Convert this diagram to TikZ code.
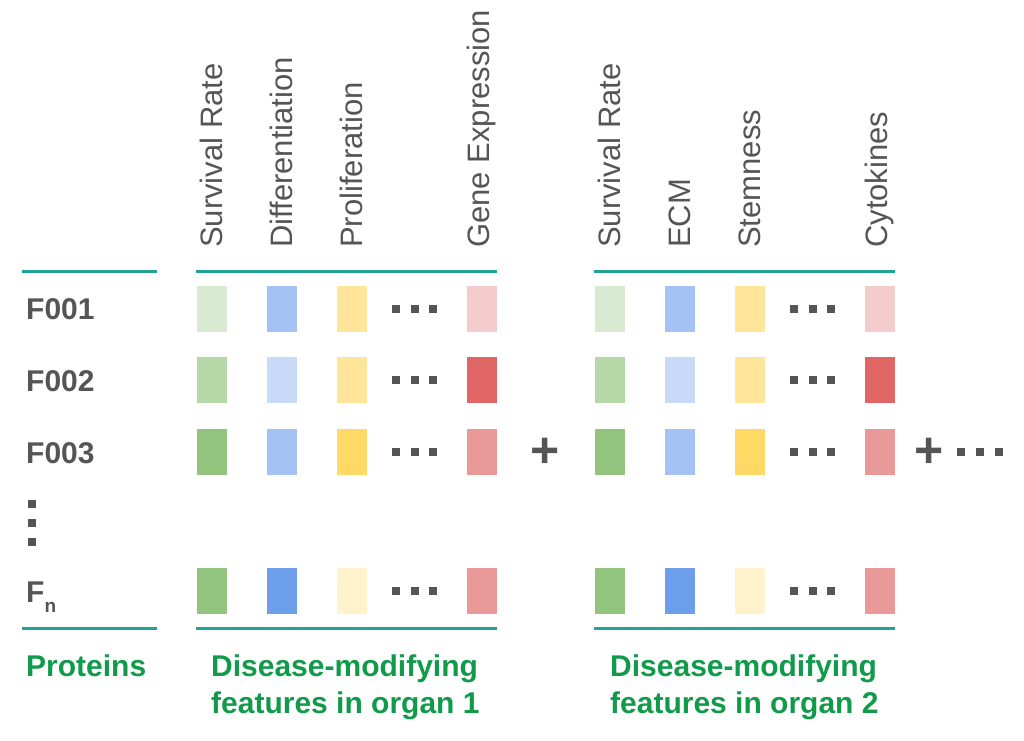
\documentclass[tikz,border=0pt]{standalone}
\usepackage{fontspec}
\setmainfont{Liberation Sans}
\usetikzlibrary{positioning}
\definecolor{rulecol}{RGB}{32,164,154}
\definecolor{inkgray}{RGB}{85,85,85}
\definecolor{labgreen}{RGB}{16,154,74}
\definecolor{gA}{HTML}{D9EAD3}
\definecolor{gB}{HTML}{B6D7A8}
\definecolor{gC}{HTML}{93C47D}
\definecolor{bA}{HTML}{A4C2F4}
\definecolor{bB}{HTML}{C9DAF8}
\definecolor{bC}{HTML}{6D9EEB}
\definecolor{yA}{HTML}{FFE599}
\definecolor{yB}{HTML}{FFD966}
\definecolor{yC}{HTML}{FFF2CC}
\definecolor{rA}{HTML}{F4CCCC}
\definecolor{rB}{HTML}{E06666}
\definecolor{rC}{HTML}{EA9999}
\tikzset{
    cell/.style = {
        rectangle, draw=white, line width=0.6pt,
        outer sep=0,
        inner sep=0,
        minimum width=31pt,
        minimum height=47pt
    },
    feat/.style = {
        rotate=90, anchor=west, inner sep=0,
        text=inkgray,
        font=\fontsize{31}{31}\selectfont
    },
    prot/.style = {
        anchor=base west, inner sep=0,
        text=inkgray,
        font=\bfseries\fontsize{30}{30}\selectfont
    },
    group/.style = {
        anchor=north west, inner sep=0, align=left,
        text=labgreen,
        font=\bfseries\fontsize{30}{37}\selectfont
    },
    sep/.style = {draw=rulecol, line width=3pt},
    dot/.style = {rectangle, fill=inkgray, inner sep=0, minimum size=8pt},
    plus/.style = {inner sep=0, text=inkgray, font=\bfseries\fontsize{50}{50}\selectfont}
}

\begin{document}
\begin{tikzpicture}[x=1pt,y=-1pt]
\useasboundingbox (0,0) rectangle (1024,740);

% 1. feature headers
\foreach \g/\gx/\fa/\fb/\fc/\fd in {1/196/Survival Rate/Differentiation/Proliferation/Gene Expression,
                                   2/594/Survival Rate/ECM/Stemness/Cytokines} {
  \node[feat] (h\g-1) at (\gx+15.5,248) {\fa};
  \node[feat] (h\g-2) at (\gx+85.5,248) {\fb};
  \node[feat] (h\g-3) at (\gx+155.5,248) {\fc};
  \node[feat] (h\g-4) at (\gx+285.5,248) {\fd};
}

% 2. rules above and below
\coordinate (pt) at (22,271);  \coordinate (pt') at (157,271);
\coordinate (pb) at (22,628);  \coordinate (pb') at (157,628);
\coordinate (at) at (196,271); \coordinate (at') at (497,271);
\coordinate (ab) at (196,628); \coordinate (ab') at (497,628);
\coordinate (bt) at (594,271); \coordinate (bt') at (895,271);
\coordinate (bb) at (594,628); \coordinate (bb') at (895,628);
\draw [sep] (pt) -- (pt') (pb) -- (pb') (at) -- (at') (ab) -- (ab') (bt) -- (bt') (bb) -- (bb');

% 3. protein rows
\node[prot] (F001) at (26,319) {F001};
\node[prot] (F002) at (26,391) {F002};
\node[prot] (F003) at (26,463) {F003};
\node[prot] (Fn)   at (26,602) {F\raisebox{-10pt}{\fontsize{19}{19}\selectfont n}};
\foreach \i/\y in {1/503.5,2/522.5,3/541.5}
  \node[dot] (v\i) at (31.5,\y) {};

% 4. colour cells -- one block per organ
\foreach \g/\gx in {1/196,2/594} {
  \foreach \r/\ry/\ca/\cb/\cc/\cd in {1/308.5/gA/bA/yA/rA, 2/380/gB/bB/yA/rB,
                                      3/452/gC/bA/yB/rC, 4/591/gC/bC/yC/rC} {
    \node[cell,fill=\ca] (c\g-\r-1) at (\gx+15.5,\ry) {};
    \node[cell,fill=\cb] (c\g-\r-2) at (\gx+85.5,\ry) {};
    \node[cell,fill=\cc] (c\g-\r-3) at (\gx+155.5,\ry) {};
    \node[cell,fill=\cd] (c\g-\r-4) at (\gx+285.5,\ry) {};
    \foreach \d/\dx in {1/200,2/218.5,3/237}
      \node[dot] (d\g-\r-\d) at (\gx+\dx,\ry) {};
  }
}

% 5. plus signs and trailing dots
\node[plus] (plus1) at (545,453) {+};
\node[plus] (plus2) at (929,453) {+};
\foreach \d/\dx in {1/961,2/980,3/999}
  \node[dot] (e\d) at (\dx,452) {};

% 6. group labels
\node[group] (prots) at (26,655)  {Proteins};
\node[group] (org1)  at (211,655) {Disease-modifying\\features in organ 1};
\node[group] (org2)  at (610,655) {Disease-modifying\\features in organ 2};

\end{tikzpicture}
\end{document}
